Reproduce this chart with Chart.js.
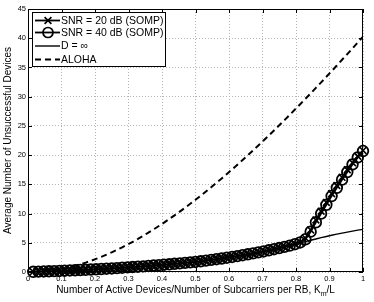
<!DOCTYPE html>
<html>
<head>
<meta charset="utf-8">
<script src="https://cdn.jsdelivr.net/npm/chart.js@4.4.1/dist/chart.umd.min.js"></script>
<style>
  html, body { margin: 0; padding: 0; background: #fff; }
  canvas { display: block; }
</style>
</head>
<body>
<canvas id="c" width="374" height="302"></canvas>
<script>
// ---- data ----
const L = 64;
const km = [1,2,3,4,5,6,7,8,9,10,11,12,13,14,15,16,17,18,19,20,21,22,23,24,25,26,27,28,29,30,31,32,
            33,34,35,36,37,38,39,40,41,42,43,44,45,46,47,48,49,50,51,52,53,54,55,56,57,58,59,60,61,62,63,64];

const dInfinity = [0.03,0.06,0.09,0.12,0.15,0.18,0.22,0.26,0.30,0.34,0.38,0.42,0.46,0.51,0.56,0.61,
                   0.67,0.73,0.79,0.85,0.91,0.97,1.04,1.11,1.18,1.25,1.32,1.40,1.48,1.56,1.64,1.72,
                   1.83,1.95,2.07,2.19,2.31,2.44,2.57,2.72,2.87,3.03,3.19,3.35,3.52,3.71,3.90,4.10,
                   4.30,4.52,4.75,4.97,5.20,5.43,5.65,5.88,6.08,6.28,6.47,6.65,6.83,7.00,7.16,7.30];

const somp20 = [0.03,0.06,0.09,0.12,0.15,0.18,0.22,0.26,0.30,0.34,0.38,0.42,0.46,0.51,0.56,0.61,
                0.67,0.73,0.79,0.85,0.91,0.97,1.04,1.11,1.18,1.25,1.32,1.40,1.48,1.56,1.64,1.72,
                1.83,1.95,2.07,2.19,2.31,2.44,2.57,2.72,2.87,3.03,3.19,3.35,3.52,3.71,3.90,4.10,
                4.30,4.52,4.78,5.10,5.80,7.20,8.90,10.40,11.90,13.40,14.80,16.20,17.50,18.70,19.80,20.80];

const somp40 = [0.03,0.06,0.09,0.12,0.15,0.18,0.22,0.26,0.30,0.34,0.38,0.42,0.46,0.51,0.56,0.61,
                0.67,0.73,0.79,0.85,0.91,0.97,1.04,1.11,1.18,1.25,1.32,1.40,1.48,1.56,1.64,1.72,
                1.83,1.95,2.07,2.19,2.31,2.44,2.57,2.72,2.87,3.03,3.19,3.35,3.52,3.71,3.90,4.10,
                4.30,4.52,4.76,5.05,5.60,6.90,8.50,10.00,11.50,13.00,14.40,15.80,17.10,18.40,19.60,20.70];

const aloha = [0.00,0.03,0.09,0.19,0.31,0.45,0.63,0.84,1.07,1.32,1.60,1.91,2.24,2.59,2.97,3.37,
               3.79,4.23,4.69,5.17,5.67,6.20,6.74,7.29,7.87,8.46,9.07,9.70,10.34,11.00,11.67,12.36,
               13.06,13.78,14.51,15.25,16.01,16.78,17.56,18.36,19.16,19.98,20.81,21.65,22.50,23.35,24.22,25.10,
               25.99,26.89,27.80,28.71,29.63,30.56,31.50,32.45,33.40,34.37,35.33,36.31,37.29,38.27,39.27,40.27];

const xTicks = [0,0.1,0.2,0.3,0.4,0.5,0.6,0.7,0.8,0.9,1];
const yTicks = [0,5,10,15,20,25,30,35,40,45];
const xTitle = "Number of Active Devices/Number of Subcarriers per RB, K";
const xTitleSub = "m";
const xTitleEnd = "/L";
const yTitle = "Average Number of Unsuccessful Devices";
// ---------------------------------------------

const FONT = "'Liberation Sans', Arial, Helvetica, sans-serif";
const pts = arr => km.map((k, i) => ({ x: k / L, y: arr[i] }));

const datasets = [
  { label: 'ALOHA', data: pts(aloha), borderColor: '#000', borderWidth: 2, borderDash: [6, 4],
    pointRadius: 0, fill: false, tension: 0, legendStyle: 'dash' },
  { label: 'D = \u221E', data: pts(dInfinity), borderColor: '#000', borderWidth: 1.4,
    pointRadius: 0, fill: false, tension: 0, legendStyle: 'solid' },
  { label: 'SNR = 40 dB (SOMP)', data: pts(somp40), borderColor: '#000', borderWidth: 1.8,
    pointStyle: 'circle', pointRadius: 5.3, pointBorderWidth: 1.8, pointBorderColor: '#000',
    pointBackgroundColor: 'rgba(0,0,0,0)', fill: false, tension: 0, clip: false, legendStyle: 'circle' },
  { label: 'SNR = 20 dB (SOMP)', data: pts(somp20), borderColor: '#000', borderWidth: 1.8,
    pointStyle: 'crossRot', pointRadius: 4.8, pointBorderWidth: 1.6, pointBorderColor: '#000',
    pointBackgroundColor: 'rgba(0,0,0,0)', fill: false, tension: 0, clip: false, legendStyle: 'cross' }
];

const decor = {
  id: 'decor',
  afterDraw(chart) {
    const ctx = chart.ctx;
    const a = chart.chartArea;
    const xs = chart.scales.x, ys = chart.scales.y;
    ctx.save();
    // box
    ctx.strokeStyle = '#000';
    ctx.lineWidth = 1;
    ctx.setLineDash([]);
    ctx.strokeRect(Math.round(a.left) + 0.5, Math.round(a.top) + 0.5,
                   Math.round(a.right - a.left) - 1, Math.round(a.bottom - a.top) - 1);
    // inward ticks
    ctx.beginPath();
    xTicks.forEach(v => {
      const px = Math.round(xs.getPixelForValue(v)) + 0.5;
      ctx.moveTo(px, a.bottom); ctx.lineTo(px, a.bottom - 4);
      ctx.moveTo(px, a.top); ctx.lineTo(px, a.top + 4);
    });
    yTicks.forEach(v => {
      const py = Math.round(ys.getPixelForValue(v)) + 0.5;
      ctx.moveTo(a.left, py); ctx.lineTo(a.left + 4, py);
      ctx.moveTo(a.right, py); ctx.lineTo(a.right - 4, py);
    });
    ctx.stroke();

    // legend
    const bx = 32.5, by = 12.5, bw = 133, bh = 54;
    ctx.fillStyle = '#fff';
    ctx.fillRect(bx, by, bw, bh);
    ctx.strokeRect(bx, by, bw, bh);
    const order = [3, 2, 1, 0];
    const rowsY = [20.5, 32.5, 46, 59.5];
    ctx.font = '10.5px ' + FONT;
    ctx.textBaseline = 'middle';
    ctx.textAlign = 'left';
    order.forEach((di, r) => {
      const ds = chart.data.datasets[di];
      const y = rowsY[r];
      ctx.strokeStyle = '#000';
      ctx.lineWidth = ds.borderWidth;
      ctx.setLineDash(ds.borderDash || []);
      ctx.beginPath(); ctx.moveTo(35, y); ctx.lineTo(60, y); ctx.stroke();
      ctx.setLineDash([]);
      ctx.lineWidth = 1.7;
      if (ds.legendStyle === 'circle') {
        ctx.beginPath(); ctx.arc(48, y, 5, 0, Math.PI * 2); ctx.stroke();
      } else if (ds.legendStyle === 'cross') {
        const s = 3.4;
        ctx.beginPath();
        ctx.moveTo(48 - s, y - s); ctx.lineTo(48 + s, y + s);
        ctx.moveTo(48 - s, y + s); ctx.lineTo(48 + s, y - s);
        ctx.stroke();
      }
      ctx.fillStyle = '#000';
      ctx.fillText(ds.label, 61, y + 0.5);
    });

    // x title with subscript
    const f1 = '10px ' + FONT, f2 = '7px ' + FONT;
    ctx.font = f1;
    const w1 = ctx.measureText(xTitle).width;
    const w3 = ctx.measureText(xTitleEnd).width;
    ctx.font = f2;
    const w2 = ctx.measureText(xTitleSub).width;
    const total = w1 + w2 + w3;
    let x0 = (a.left + a.right) / 2 - total / 2;
    const ty = 290;
    ctx.fillStyle = '#000';
    ctx.textBaseline = 'middle';
    ctx.font = f1; ctx.fillText(xTitle, x0, ty);
    ctx.font = f2; ctx.fillText(xTitleSub, x0 + w1, ty + 4);
    ctx.font = f1; ctx.fillText(xTitleEnd, x0 + w1 + w2, ty);

    // y title
    ctx.save();
    ctx.translate(8, (a.top + a.bottom) / 2);
    ctx.rotate(-Math.PI / 2);
    ctx.textAlign = 'center';
    ctx.textBaseline = 'middle';
    ctx.font = '10px ' + FONT;
    ctx.fillText(yTitle, 0, 0);
    ctx.restore();

    ctx.restore();
  }
};

new Chart(document.getElementById('c'), {
  type: 'line',
  data: { datasets },
  plugins: [decor],
  options: {
    responsive: false,
    devicePixelRatio: 1,
    animation: false,
    events: [],
    layout: { padding: { top: 9, right: 11, left: 0, bottom: 0 } },
    plugins: { legend: { display: false }, tooltip: { enabled: false }, title: { display: false } },
    scales: {
      x: {
        type: 'linear', min: 0, max: 1,
        afterBuildTicks: s => { s.ticks = xTicks.map(v => ({ value: v })); },
        afterFit: s => { s.height = 30; },
        ticks: { padding: 2, color: '#000', font: { size: 7.5, family: FONT },
                 callback: v => String(v), maxRotation: 0, autoSkip: false },
        grid: { color: '#b4b4b4', lineWidth: 1, drawTicks: false },
        border: { display: false, dash: [1, 2] }
      },
      y: {
        type: 'linear', min: 0, max: 45,
        afterBuildTicks: s => { s.ticks = yTicks.map(v => ({ value: v })); },
        afterFit: s => { s.width = 28; },
        ticks: { padding: 2, color: '#000', font: { size: 7.5, family: FONT },
                 callback: v => String(v), autoSkip: false },
        grid: { color: '#b4b4b4', lineWidth: 1, drawTicks: false },
        border: { display: false, dash: [1, 2] }
      }
    }
  }
});
</script>
</body>
</html>
